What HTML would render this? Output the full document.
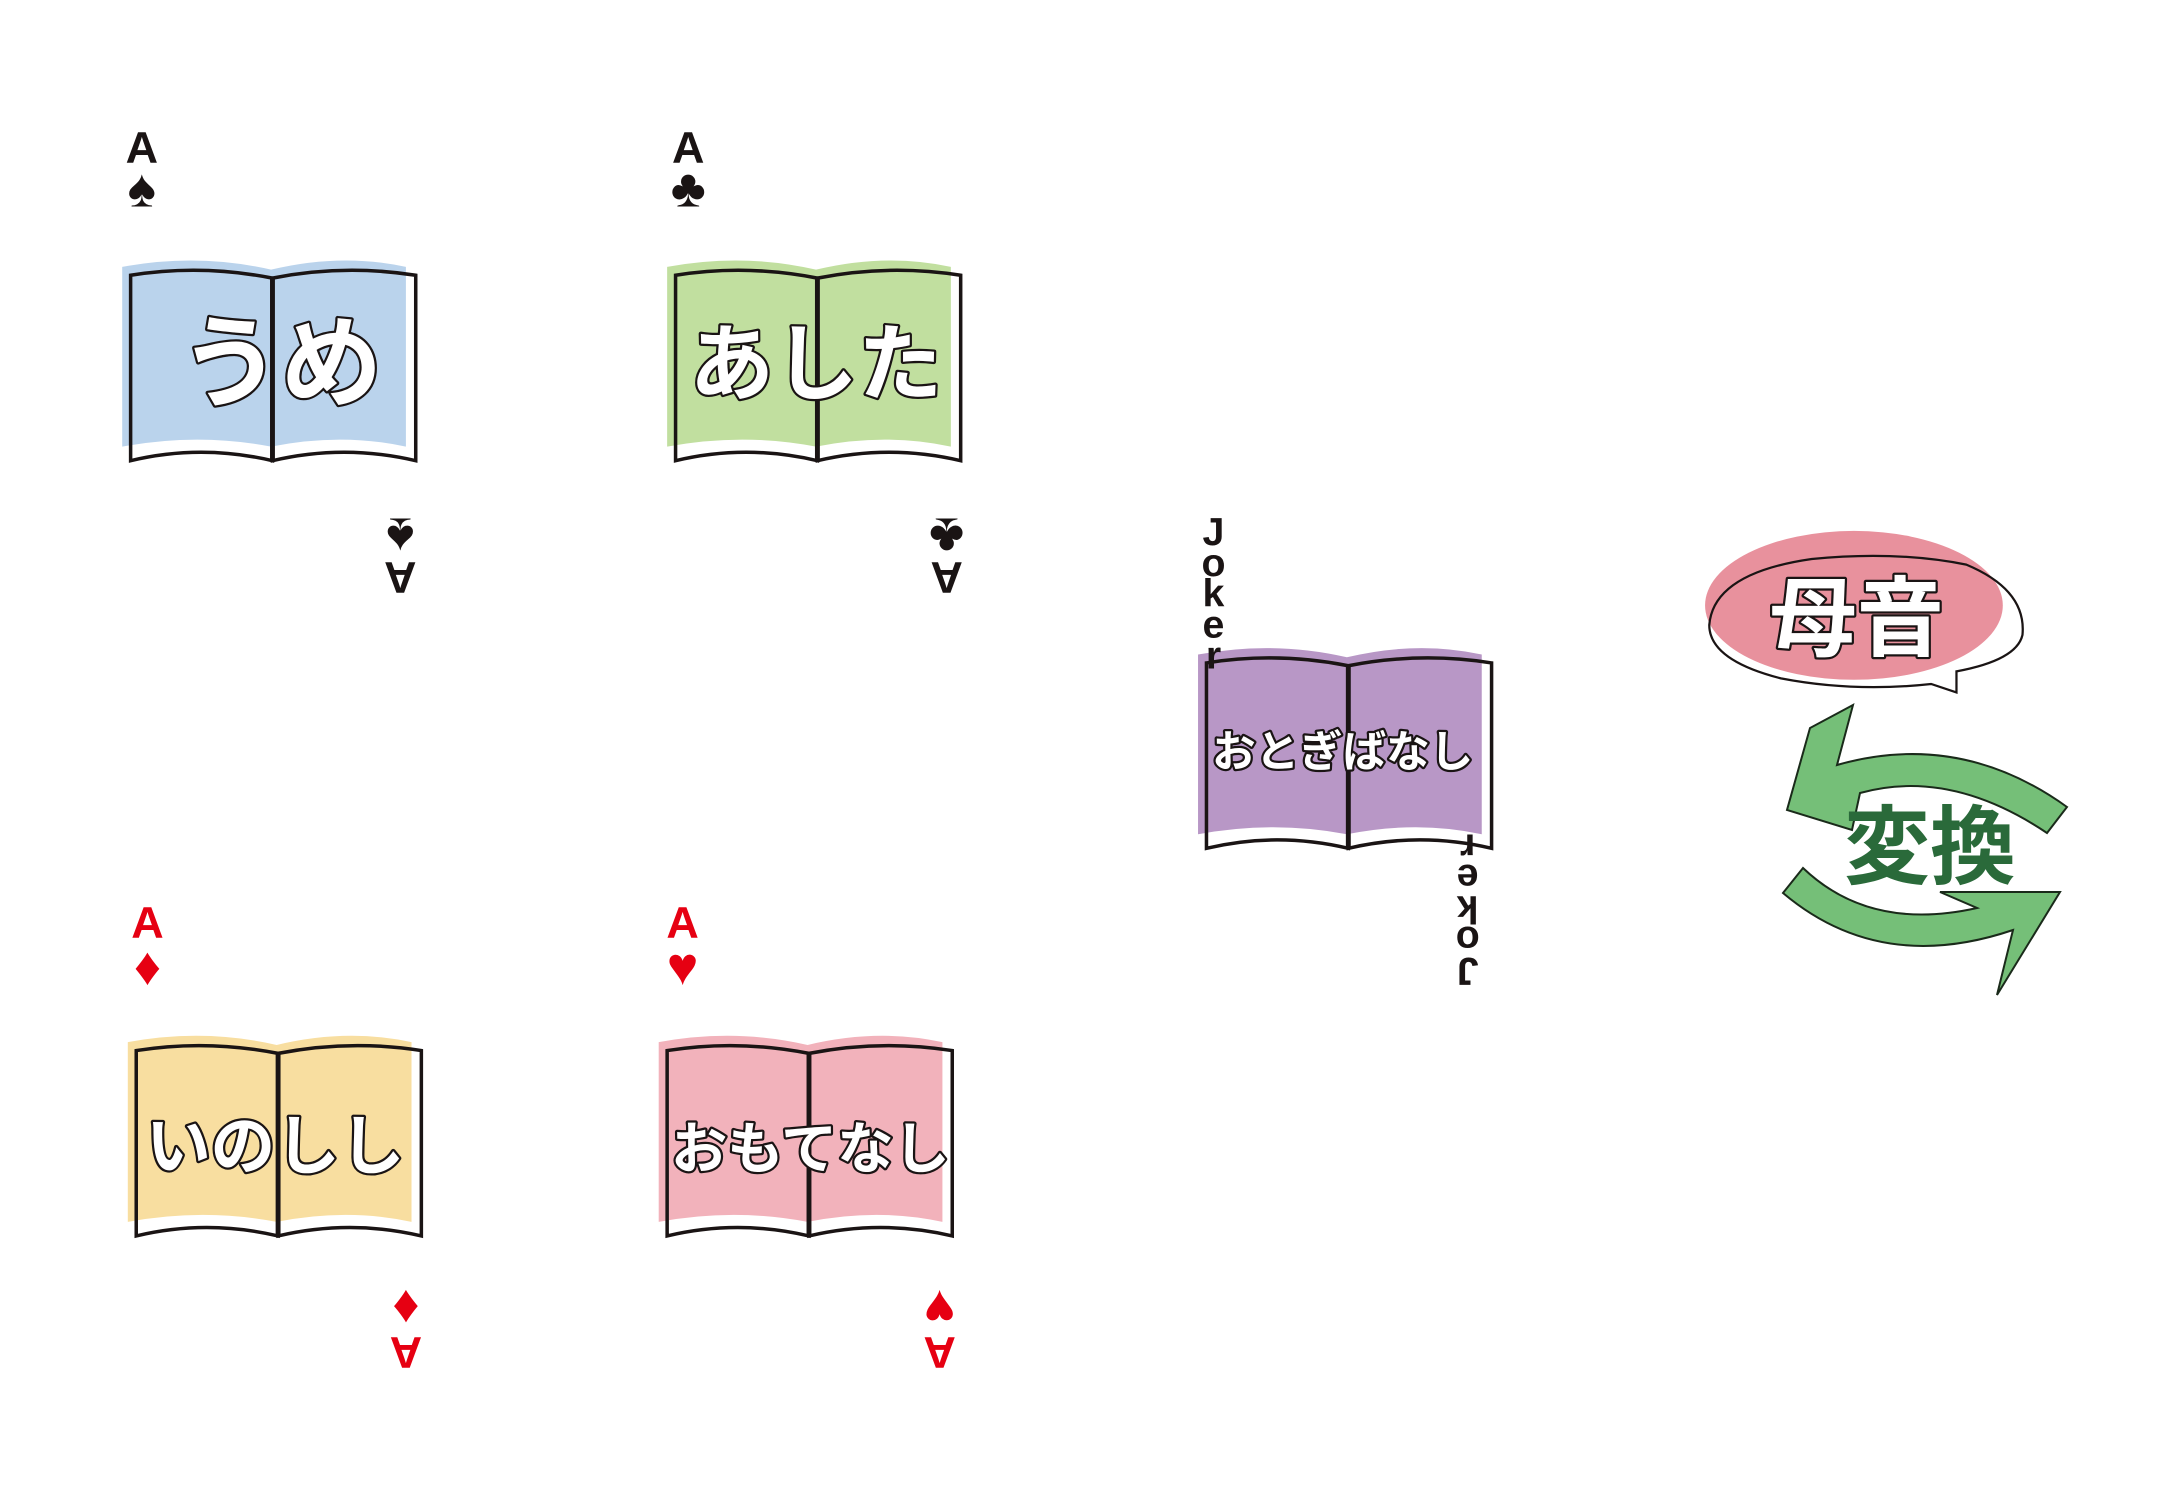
<!DOCTYPE html>
<html><head><meta charset="utf-8"><style>
html,body{margin:0;padding:0;background:#fff;}
svg{display:block;}
.jp{font-family:"Liberation Sans","Noto Sans CJK JP",sans-serif;}
.t{fill:#fff;stroke:#1a1414;stroke-width:3.2;paint-order:stroke;stroke-linejoin:round;text-anchor:middle;font-weight:bold;}
.r{font-family:"Liberation Sans","DejaVu Sans",sans-serif;font-weight:bold;text-anchor:middle;}
</style></head><body>
<svg width="2184" height="1490" viewBox="0 0 2184 1490" xmlns="http://www.w3.org/2000/svg">
<defs>
<g id="outline">
<path d="M0,2 Q50,-6 101,4 L101,134 Q50,122 0,134 Z" fill="none" stroke="#1a1414" stroke-width="2.5"/>
<path d="M101,4 Q152,-6 203,2 L203,134 Q152,122 101,134 Z" fill="none" stroke="#1a1414" stroke-width="2.5"/>
<line x1="101" y1="4" x2="101" y2="134" stroke="#1a1414" stroke-width="3.5"/>
</g>
<path id="fillp" d="M-6,-4 Q48,-14 100,-2 Q150,-14 196,-4 L196,124 Q150,114 100,124 Q48,114 -6,124 Z"/>
</defs>
<rect width="2184" height="1490" fill="#fff"/>
<g transform="scale(1.4045)">
<!-- card 1 -->
<g transform="translate(93,194)"><use href="#fillp" fill="#bad3ec"/><use href="#outline"/></g>
<text class="jp t" x="200" y="284" font-size="72">うめ</text>
<text class="r" x="101" y="116" font-size="32" fill="#1a1414">A</text>
<text class="r" x="101" y="147" font-size="38" fill="#1a1414">♠</text>
<g transform="rotate(180 285 400)"><text class="r" x="285" y="400" font-size="32" fill="#1a1414">A</text><text class="r" x="285" y="431" font-size="38" fill="#1a1414">♠</text></g>
<!-- card 2 -->
<g transform="translate(481,194)"><use href="#fillp" fill="#c1df9f"/><use href="#outline"/></g>
<text class="jp t" x="581" y="280" font-size="60">あした</text>
<text class="r" x="490" y="116" font-size="32" fill="#1a1414">A</text>
<text class="r" x="490" y="147" font-size="38" fill="#1a1414">♣</text>
<g transform="rotate(180 674 400)"><text class="r" x="674" y="400" font-size="32" fill="#1a1414">A</text><text class="r" x="674" y="431" font-size="38" fill="#1a1414">♣</text></g>
<!-- card 3 -->
<g transform="translate(97,746)"><use href="#fillp" fill="#f8dea0"/><use href="#outline"/></g>
<text class="jp t" x="196" y="832" font-size="46">いのしし</text>
<text class="r" x="105" y="668" font-size="32" fill="#e60012">A</text>
<text class="r" x="105" y="701" font-size="38" fill="#e60012">♦</text>
<g transform="rotate(180 289 952)"><text class="r" x="289" y="952" font-size="32" fill="#e60012">A</text><text class="r" x="289" y="985" font-size="38" fill="#e60012">♦</text></g>
<!-- card 4 -->
<g transform="translate(475,746)"><use href="#fillp" fill="#f2b2bb"/><use href="#outline"/></g>
<text class="jp t" x="577" y="832" font-size="40">おもてなし</text>
<text class="r" x="486" y="668" font-size="32" fill="#e60012">A</text>
<text class="r" x="486" y="701" font-size="38" fill="#e60012">♥</text>
<g transform="rotate(180 669 952)"><text class="r" x="669" y="952" font-size="32" fill="#e60012">A</text><text class="r" x="669" y="985" font-size="38" fill="#e60012">♥</text></g>
<!-- joker -->
<g transform="translate(859,470)"><use href="#fillp" fill="#b897c6"/><use href="#outline"/></g>
<text class="jp t" x="956" y="546" font-size="31" stroke-width="2.2">おとぎばなし</text>
<g class="r" font-size="28" fill="#1a1414">
<text x="864" y="388">J</text><text x="864" y="410">o</text><text x="864" y="432">k</text><text x="864" y="454">e</text><text x="864" y="476">r</text>
</g>
<g class="r" font-size="28" fill="#1a1414" transform="rotate(180 1045 648)">
<text x="1045" y="614">J</text><text x="1045" y="636">o</text><text x="1045" y="658">k</text><text x="1045" y="680">e</text><text x="1045" y="702">r</text>
</g>
<!-- bubble -->
<ellipse cx="1320" cy="431" rx="106" ry="53" fill="#e8919d"/>
<path d="M1375,487 Q1320,493 1268,483 Q1217,470 1217,445 Q1220,408 1290,398 Q1350,392 1400,402 Q1443,420 1440,452 Q1436,470 1393,478 L1393,493 Z" fill="none" stroke="#1a1414" stroke-width="1.6"/>
<text class="jp t" x="1322" y="462" font-size="62" stroke-width="2.4">母音</text>
</g>
<!-- arrows (original coords) -->
<path d="M1853,705 L1810,728 L1787,810 L1852,830 L1860,793 Q1950,768 2047,833 L2067,807 Q1960,730 1837,765 Z" fill="#75bf78" stroke="#1a2a1a" stroke-width="2"/>
<path d="M1803,868 L1783,893 Q1880,975 2013,930 L1997,995 L2060,892 L1940,892 L1977,908 Q1870,932 1803,868 Z" fill="#75bf78" stroke="#1a2a1a" stroke-width="2"/>
<text class="jp" x="1930" y="877" font-size="86" font-weight="bold" fill="#2a6a3a" text-anchor="middle">変換</text>
</svg>
</body></html>
